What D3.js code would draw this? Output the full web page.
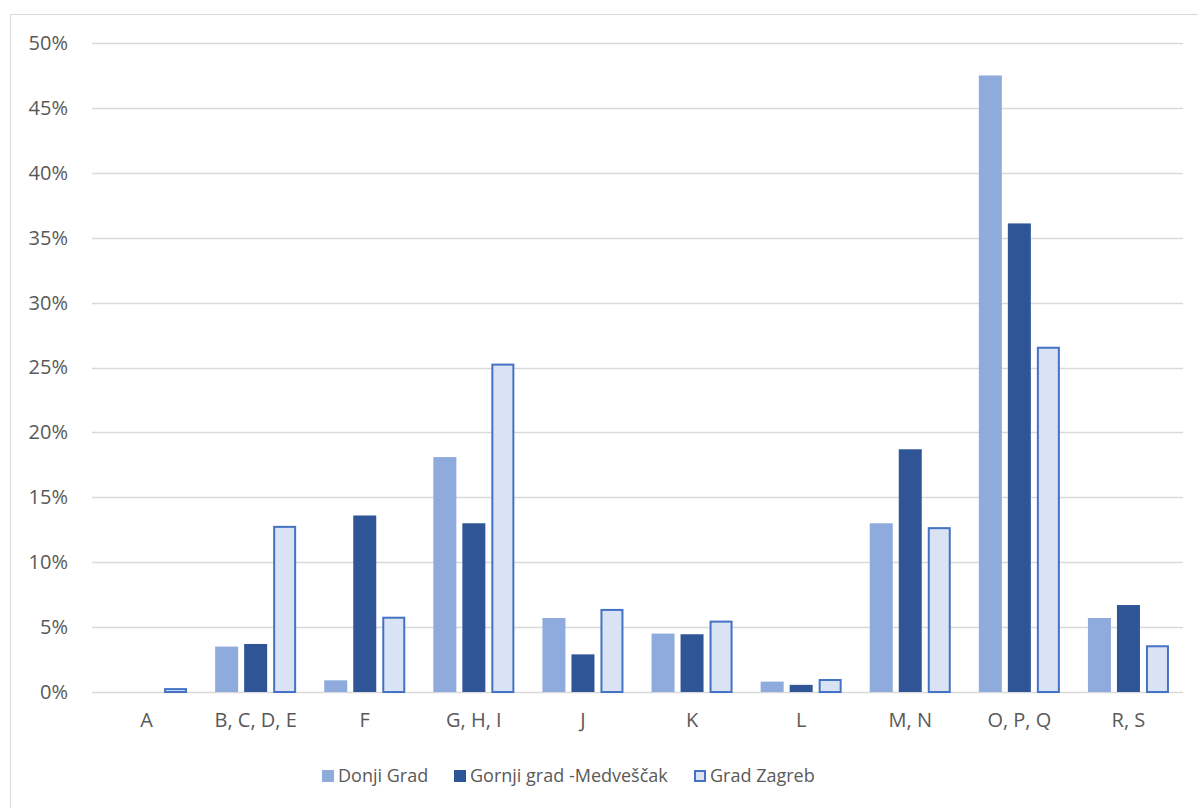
<!DOCTYPE html>
<html>
<head>
<meta charset="utf-8">
<script src="https://cdn.jsdelivr.net/npm/d3@7"></script>
<style>
  body { margin: 0; background: #fff; }
  text { font-family: "Open Sans", Lato, sans-serif; fill: #595959; }
</style>
</head>
<body>
<svg id="chart" width="1198" height="808"></svg>
<script>
const categories = ['A', 'B, C, D, E', 'F', 'G, H, I', 'J', 'K', 'L', 'M, N', 'O, P, Q', 'R, S'];
const seriesNames = ['Donji Grad', 'Gornji grad -Medveščak', 'Grad Zagreb'];
const donjiGrad = [0, 3.5, 0.9, 18.1, 5.7, 4.5, 0.8, 13.0, 47.5, 5.7];
const gornjiGrad = [0, 3.7, 13.6, 13.0, 2.9, 4.45, 0.55, 18.7, 36.1, 6.7];
const gradZagreb = [0.3, 12.8, 5.8, 25.3, 6.4, 5.5, 1.0, 12.7, 26.6, 3.6];
const yTicks = [0, 5, 10, 15, 20, 25, 30, 35, 40, 45, 50];

const series = [donjiGrad, gornjiGrad, gradZagreb];
const fills = ['#8faadc', '#2f5597', '#dae3f3'];
const strokes = [null, null, '#4472c4'];

const svg = d3.select('#chart');
const margin = { top: 43, left: 92, right: 15, bottom: 116 };
const W = 1198, H = 808;

// chart frame
svg.append('rect')
  .attr('x', 10.5).attr('y', 14.5)
  .attr('width', W).attr('height', H)
  .attr('fill', 'none').attr('stroke', '#d9d9d9');

const x = d3.scaleBand().domain(categories).range([margin.left, W - margin.right]);
const xs = d3.scaleBand().domain(d3.range(3)).range([0, x.bandwidth()]).paddingInner(0.207).paddingOuter(0.484);
const y = d3.scaleLinear().domain([0, 50]).range([H - margin.bottom, margin.top]);

// grid
svg.append('g').selectAll('line').data(yTicks).join('line')
  .attr('x1', margin.left).attr('x2', W - margin.right)
  .attr('y1', d => Math.round(y(d)) + 0.5).attr('y2', d => Math.round(y(d)) + 0.5)
  .attr('stroke', '#d9d9d9').attr('stroke-width', 1.5);

const yAxis = d3.axisLeft(y).tickValues(yTicks).tickFormat(d => d + '%').tickSize(0).tickPadding(0);
const gy = svg.append('g').attr('transform', `translate(${margin.left - 24},0)`).call(yAxis);
gy.select('.domain').remove();
gy.selectAll('text').style('font-size', '20px').attr('fill', '#595959').attr('font-family', null);

// bars
series.forEach((vals, si) => {
  const s = strokes[si] ? 1 : 0;
  svg.append('g').selectAll('rect').data(vals).join('rect')
    .attr('x', (d, i) => x(categories[i]) + xs(si) + s)
    .attr('y', d => y(d) + s)
    .attr('width', xs.bandwidth() - 2 * s)
    .attr('height', d => Math.max(0, y(0) - y(d) - s))
    .attr('fill', fills[si])
    .attr('stroke', strokes[si] || 'none')
    .attr('stroke-width', 2);
});

const xAxis = d3.axisBottom(x).tickSize(0).tickPadding(0);
const gx = svg.append('g').attr('transform', `translate(0,${y(0) + 21})`).call(xAxis);
gx.select('.domain').remove();
gx.selectAll('text').style('font-size', '20px').attr('fill', '#595959').attr('font-family', null);

// legend
const legendX = [322, 454, 694];
const lg = svg.append('g');
seriesNames.forEach((name, i) => {
  const s = strokes[i] ? 1 : 0;
  const g = lg.append('g').attr('transform', `translate(${legendX[i]},770)`);
  g.append('rect')
    .attr('x', s).attr('y', s)
    .attr('width', 12 - 2 * s).attr('height', 12 - 2 * s)
    .attr('fill', fills[i])
    .attr('stroke', strokes[i] || 'none').attr('stroke-width', 2);
  g.append('text').attr('x', 16).attr('y', 6).attr('dy', '0.35em')
    .style('font-size', '18px').text(name);
});
</script>
</body>
</html>
